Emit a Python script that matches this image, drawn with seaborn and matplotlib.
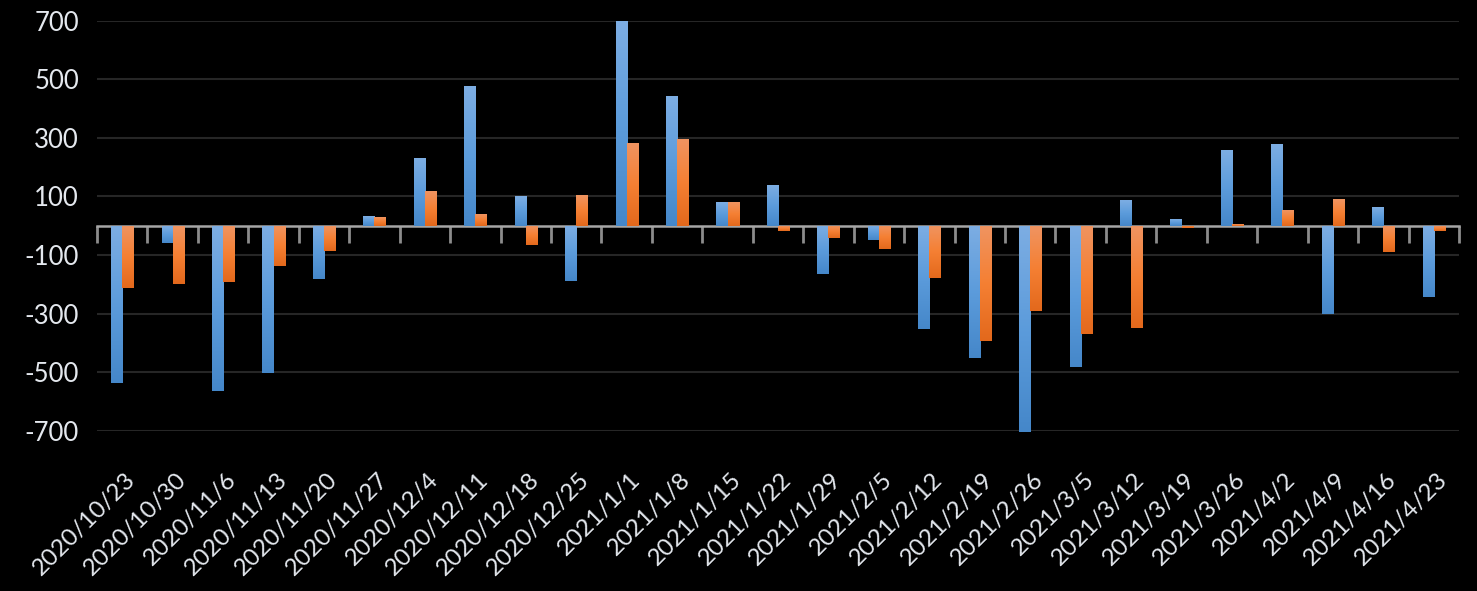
import numpy as np
import pandas as pd
import seaborn as sns
import matplotlib.pyplot as plt
from matplotlib.transforms import ScaledTranslation

dates = ["2020/10/23", "2020/10/30", "2020/11/6", "2020/11/13", "2020/11/20", "2020/11/27",
         "2020/12/4", "2020/12/11", "2020/12/18", "2020/12/25", "2021/1/1", "2021/1/8",
         "2021/1/15", "2021/1/22", "2021/1/29", "2021/2/5", "2021/2/12", "2021/2/19",
         "2021/2/26", "2021/3/5", "2021/3/12", "2021/3/19", "2021/3/26", "2021/4/2",
         "2021/4/9", "2021/4/16", "2021/4/23"]
series_blue = [-536, -58, -563, -502, -181, 33, 231, 477, 101, -188, 700, 443,
               81, 139, -164, -48, -352, -451, -705, -481, 88, 23, 258, 279,
               -300, 64, -242]
series_orange = [-212, -198, -191, -137, -85, 30, 118, 40, -65, 105, 282, 296,
                 81, -17, -41, -79, -178, -393, -290, -369, -348, -7, 6, 53,
                 91, -89, -17]
series_names = ["A", "B"]
y_ticks = [-700, -500, -300, -100, 100, 300, 500, 700]

df = pd.DataFrame({
    "date": dates * 2,
    "value": series_blue + series_orange,
    "series": [series_names[0]] * len(dates) + [series_names[1]] * len(dates),
})

sns.set_theme(style="dark")
plt.rcParams["font.family"] = ["Lato", "DejaVu Sans"]
plt.rcParams["axes.unicode_minus"] = False

TEXT = "#e4e8ee"
BLUE_STOPS = [(0.49, 0.68, 0.89), (0.36, 0.61, 0.86), (0.27, 0.53, 0.79)]
ORANGE_STOPS = [(0.94, 0.58, 0.38), (0.96, 0.50, 0.20), (0.89, 0.41, 0.11)]

fig = plt.figure(figsize=(14.77, 5.91), dpi=100, facecolor="black")
ax = fig.add_axes([97 / 1477, 1 - 430.7 / 591, (1459 - 97) / 1477, 410 / 591])
ax.set_facecolor("black")

sns.barplot(data=df, x="date", y="value", hue="series",
            palette=[BLUE_STOPS[1], ORANGE_STOPS[1]], width=0.44,
            saturation=1, errorbar=None, legend=False, ax=ax, zorder=2)


def grad(stops, n=128):
    stops = np.array(stops)
    t = np.linspace(0, 1, n)
    xs = np.linspace(0, 1, len(stops))
    cols = np.stack([np.interp(t, xs, stops[:, c]) for c in range(3)], axis=1)
    return cols[:, None, :]


nb = len(dates)
for i, p in enumerate(list(ax.patches)):
    stops = BLUE_STOPS if i < nb else ORANGE_STOPS
    x0, y0 = p.get_x(), p.get_y()
    w, h = p.get_width(), p.get_height()
    ylo, yhi = min(y0, y0 + h), max(y0, y0 + h)
    if yhi - ylo <= 0:
        continue
    im = ax.imshow(grad(stops), extent=[x0, x0 + w, ylo, yhi], origin="upper",
                   aspect="auto", interpolation="bilinear", zorder=2.1)
    im.set_clip_path(p)
    p.set_edgecolor("none")

ax.set_ylim(-700, 700)
ax.set_xlim(-0.5, len(dates) - 0.5)

for s in ax.spines.values():
    s.set_visible(False)

ax.set_yticks(y_ticks)
ax.yaxis.grid(True, color="#262626", linewidth=1.5, zorder=0)
ax.xaxis.grid(False)
ax.set_axisbelow(True)
ax.tick_params(axis="y", length=0, pad=13, labelsize=18.5, labelcolor=TEXT)
ax.set_xlabel("")
ax.set_ylabel("")

ax.set_xticks(range(nb))
ax.set_xticklabels(dates, rotation=45, ha="right", va="center",
                   rotation_mode="anchor", color=TEXT, fontsize=17.5)
ax.tick_params(axis="x", length=0, pad=33)
offset = ScaledTranslation(10 / 100, 0, fig.dpi_scale_trans)
for lab in ax.get_xticklabels():
    lab.set_transform(lab.get_transform() + offset)

sec = ax.secondary_xaxis(0, transform=ax.transData)
sec.set_xticks(np.arange(-0.5, nb, 1.0))
sec.set_xticklabels([])
sec.tick_params(axis="x", direction="out", length=12, width=2, color="#8c8c8c")
sec.spines["bottom"].set_color("#a6a6a6")
sec.spines["bottom"].set_linewidth(1.8)
for k in ["top", "left", "right"]:
    sec.spines[k].set_visible(False)

fig.savefig("out.png", dpi=100, facecolor="black")
